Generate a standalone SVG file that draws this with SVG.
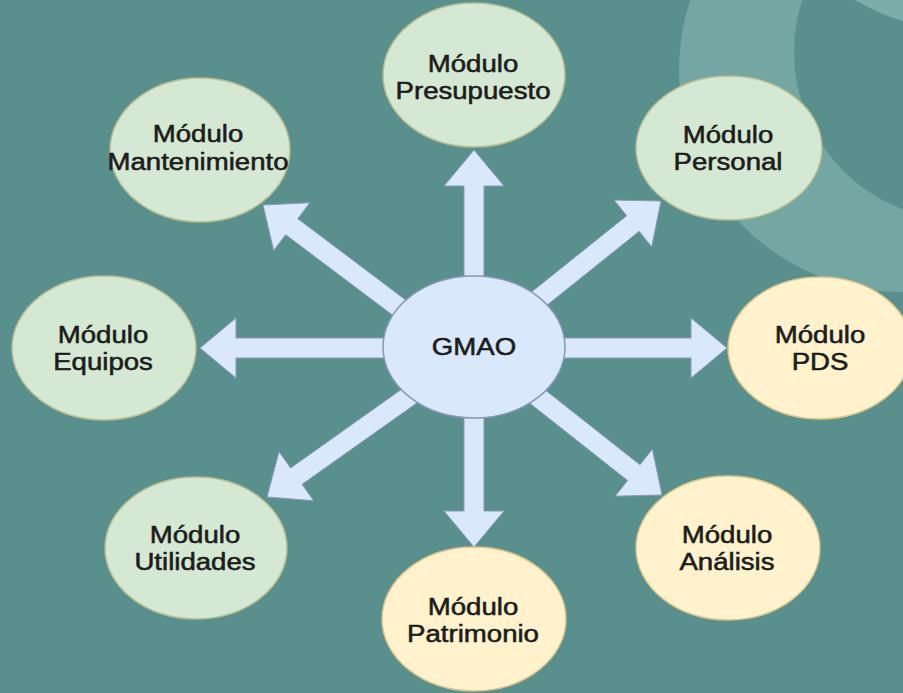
<svg xmlns="http://www.w3.org/2000/svg" width="903" height="693" viewBox="0 0 903 693">
<style>
.bg{fill:#598f8c}
.ring{fill:#74a6a4}
.ring2{fill:#7dadab}
.g{fill:#d5e8d4;stroke:#b6bd90;stroke-width:1.5}
.y{fill:#fff2cc;stroke:#d8c48c;stroke-width:1.5}
.b{fill:#dae8fc;stroke:#8797b8;stroke-width:1.5}
.arr{fill:#dae8fc;stroke:#8a9ab8;stroke-width:1}
text{font-family:"Liberation Sans",Arial,sans-serif;font-size:24px;font-weight:normal;fill:#1c1c1c;stroke:#1c1c1c;stroke-width:0.55;text-anchor:middle}
</style>
<g id="background">
<rect class="bg" x="0" y="0" width="903" height="693"/>
<circle class="ring" cx="901" cy="70" r="222"/>
<circle class="bg" cx="962" cy="52" r="168"/>
<circle class="ring2" cx="979" cy="-218" r="251"/>
</g>
<g id="connectors">
<polygon class="arr" points="484,285 484,186 504,186 474,150 444,186 464,186 464,285"/>
<polygon class="arr" points="464,410 464,511 444,511 474,547 504,511 484,511 484,410"/>
<polygon class="arr" points="392,338 236,338 236,318 200,348 236,378 236,358 392,358"/>
<polygon class="arr" points="556,338 691,338 691,318 727,348 691,378 691,358 556,358"/>
<polygon class="arr" points="411.4,304.3 297.8,218.7 309.8,202.7 263,205 273.7,250.6 285.7,234.7 399.4,320.3"/>
<polygon class="arr" points="540,310.8 639.2,231.3 651.7,246.9 661,201 614.1,200.1 626.7,215.7 527.5,295.2"/>
<polygon class="arr" points="408.7,384.2 290.6,468 279,451.7 267,497 313.7,500.7 302.1,484.3 420.3,400.6"/>
<polygon class="arr" points="525.5,399.9 627.6,480.5 615.2,496.2 662,495 652.4,449.1 640,464.8 537.9,384.2"/>
</g>
<g id="presupuesto">
<ellipse class="g" cx="474" cy="75" rx="91" ry="72"/>
<text transform="translate(473 0) scale(1.15 1)" x="0" y="72">Módulo</text>
<text transform="translate(473 0) scale(1.15 1)" x="0" y="99">Presupuesto</text>
</g>
<g id="personal">
<ellipse class="g" cx="729" cy="148" rx="93" ry="72"/>
<text transform="translate(728 0) scale(1.15 1)" x="0" y="143">Módulo</text>
<text transform="translate(728 0) scale(1.15 1)" x="0" y="170">Personal</text>
</g>
<g id="mantenimiento">
<ellipse class="g" cx="200" cy="150" rx="90" ry="72"/>
<text transform="translate(198 0) scale(1.15 1)" x="0" y="142">Módulo</text>
<text transform="translate(198 0) scale(1.15 1)" x="0" y="170">Mantenimiento</text>
</g>
<g id="equipos">
<ellipse class="g" cx="104" cy="348" rx="92" ry="72"/>
<text transform="translate(103 0) scale(1.15 1)" x="0" y="343">Módulo</text>
<text transform="translate(103 0) scale(1.15 1)" x="0" y="370">Equipos</text>
</g>
<g id="gmao">
<ellipse class="b" cx="474" cy="347" rx="91" ry="71"/>
<text transform="translate(474 0) scale(1.15 1)" x="0" y="355">GMAO</text>
</g>
<g id="pds">
<ellipse class="y" cx="820" cy="348" rx="92" ry="71"/>
<text transform="translate(820 0) scale(1.15 1)" x="0" y="343">Módulo</text>
<text transform="translate(820 0) scale(1.15 1)" x="0" y="370">PDS</text>
</g>
<g id="utilidades">
<ellipse class="g" cx="196" cy="548" rx="91" ry="71"/>
<text transform="translate(195 0) scale(1.15 1)" x="0" y="543">Módulo</text>
<text transform="translate(195 0) scale(1.15 1)" x="0" y="570">Utilidades</text>
</g>
<g id="analisis">
<ellipse class="y" cx="728" cy="548" rx="92" ry="72"/>
<text transform="translate(727 0) scale(1.15 1)" x="0" y="543">Módulo</text>
<text transform="translate(727 0) scale(1.15 1)" x="0" y="570">Análisis</text>
</g>
<g id="patrimonio">
<ellipse class="y" cx="474" cy="619" rx="92" ry="72"/>
<text transform="translate(473 0) scale(1.15 1)" x="0" y="615">Módulo</text>
<text transform="translate(473 0) scale(1.15 1)" x="0" y="642">Patrimonio</text>
</g>
</svg>
